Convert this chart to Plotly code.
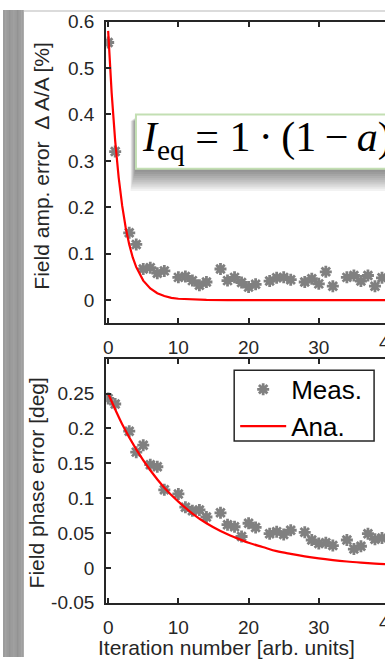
import plotly.graph_objects as go

# ---- data -------------------------------------------------------------
iterations = [0, 1, 3, 4, 5, 6, 7, 8, 10, 11, 12, 13, 14, 16, 17, 18, 19, 20,
              21, 23, 24, 25, 26, 28, 29, 30, 31, 32, 34, 35, 36, 37, 38, 39]

amp_meas = [0.555, 0.32, 0.145, 0.12, 0.067, 0.07, 0.058, 0.063, 0.049, 0.051,
            0.042, 0.032, 0.039, 0.067, 0.042, 0.049, 0.038, 0.028, 0.034, 0.041,
            0.048, 0.049, 0.044, 0.039, 0.046, 0.035, 0.061, 0.030, 0.049, 0.053,
            0.041, 0.053, 0.030, 0.048]

phase_meas = [0.243, 0.235, 0.196, 0.166, 0.176, 0.148, 0.145, 0.112, 0.106, 0.087,
              0.082, 0.083, 0.073, 0.079, 0.062, 0.059, 0.045, 0.064, 0.058, 0.049,
              0.052, 0.048, 0.054, 0.051, 0.040, 0.035, 0.036, 0.032, 0.040, 0.027,
              0.031, 0.049, 0.041, 0.043]

amp_ana_x = [0, 0.5, 1, 1.5, 2, 2.5, 3, 3.5, 4, 4.5, 5, 6, 7, 8, 9, 10, 12, 14,
             17, 20, 25, 30, 35, 40]
amp_ana_y = [0.58, 0.446, 0.343, 0.264, 0.203, 0.156, 0.120, 0.092, 0.071, 0.055,
             0.042, 0.025, 0.015, 0.009, 0.005, 0.003, 0.001, 0.0004, 0.0001, 0,
             0, 0, 0, 0]

phase_ana_x = [0, 2, 4, 6, 8, 10, 12, 14, 16, 18, 20, 22, 24, 26, 28, 30, 32, 34,
               36, 38, 40]
phase_ana_y = [0.250, 0.206, 0.170, 0.140, 0.115, 0.095, 0.078, 0.064, 0.053, 0.044,
               0.036, 0.030, 0.024, 0.020, 0.0165, 0.0136, 0.0112, 0.0092, 0.0076,
               0.0062, 0.0051]

x_ticks = [0, 10, 20, 30, 40]
x_ticklabels = ["0", "10", "20", "30", "40"]
amp_ticks = [0, 0.1, 0.2, 0.3, 0.4, 0.5, 0.6]
amp_ticklabels = ["0", "0.1", "0.2", "0.3", "0.4", "0.5", "0.6"]
phase_ticks = [-0.05, 0, 0.05, 0.1, 0.15, 0.2, 0.25]
phase_ticklabels = ["-0.05", "0", "0.05", "0.1", "0.15", "0.2", "0.25"]

# ---- style ------------------------------------------------------------
W, H = 385, 668
AX = "#262626"
FONT = "Liberation Sans, Arial, Helvetica, sans-serif"
SERIF = "Liberation Serif, Times New Roman, serif"
STAR = "#808080"
RED = "#ff0000"
X_RANGE = [-0.28, 39.43]
X_DOMAIN = [104 / W, 1.0]


def py(p):
    """pixel row -> paper y"""
    return 1 - p / H


star_marker = dict(symbol="asterisk-open", size=10, color=STAR,
                   line=dict(color=STAR, width=2.8))

fig = go.Figure()

fig.add_trace(go.Scatter(
    x=iterations, y=amp_meas, mode="markers", name="Meas.", showlegend=False,
    marker=star_marker, xaxis="x", yaxis="y"))
fig.add_trace(go.Scatter(
    x=amp_ana_x, y=amp_ana_y, mode="lines", name="Ana.", showlegend=False,
    line=dict(color=RED, width=2.2), xaxis="x", yaxis="y"))

fig.add_trace(go.Scatter(
    x=iterations, y=phase_meas, mode="markers", name="Meas.",
    marker=star_marker, xaxis="x2", yaxis="y2"))
fig.add_trace(go.Scatter(
    x=phase_ana_x, y=phase_ana_y, mode="lines", name="Ana.", line_shape="spline",
    line=dict(color=RED, width=2.2), xaxis="x2", yaxis="y2"))

common_x = dict(
    domain=X_DOMAIN, range=X_RANGE, tickvals=x_ticks, ticktext=x_ticklabels,
    ticks="inside", ticklen=5, tickwidth=1.5, tickcolor=AX, ticklabelstandoff=6,
    showline=True, linewidth=2, linecolor=AX, mirror="ticks",
    showgrid=False, zeroline=False,
    tickfont=dict(family=FONT, size=19, color=AX),
)
common_y = dict(
    ticks="inside", ticklen=5, tickwidth=1.5, tickcolor=AX, ticklabelstandoff=6,
    showline=True, linewidth=2, linecolor=AX,
    showgrid=False, zeroline=False,
    tickfont=dict(family=FONT, size=19, color=AX),
)
right_y = dict(
    ticks="inside", ticklen=4, tickwidth=1.5, tickcolor=AX, side="right",
    showline=False, showgrid=False, zeroline=False, showticklabels=False,
)

# legend box outline drawn as a shape; the legend itself sits on top of it
LG_X0, LG_X1, LG_Y0, LG_Y1 = 233, 374, 372, 445

fig.update_layout(
    width=W, height=H, margin=dict(l=0, r=0, t=0, b=0),
    paper_bgcolor="white", plot_bgcolor="white",
    xaxis=dict(anchor="y", **common_x),
    yaxis=dict(anchor="x", domain=[py(323.5), py(12)], range=[-0.05, 0.6],
               tickvals=amp_ticks, ticktext=amp_ticklabels, **common_y),
    xaxis2=dict(anchor="y2", **common_x),
    yaxis2=dict(anchor="x2", domain=[py(612), py(360)], range=[-0.05, 0.3],
                tickvals=phase_ticks, ticktext=phase_ticklabels, **common_y),
    yaxis3=dict(overlaying="y", anchor="x", range=[-0.05, 0.6],
                tickvals=amp_ticks, **right_y),
    yaxis4=dict(overlaying="y2", anchor="x2", range=[-0.05, 0.3],
                tickvals=phase_ticks, **right_y),
    showlegend=True,
    legend=dict(x=(LG_X0 + 1) / W, y=py(LG_Y0 - 4.5), xanchor="left", yanchor="top",
                bgcolor="rgba(0,0,0,0)", borderwidth=0,
                font=dict(family=FONT, size=26, color="black"),
                tracegroupgap=0, itemwidth=46),
)
fig.add_shape(type="rect", xref="paper", yref="paper",
              x0=LG_X0 / W, x1=LG_X1 / W, y0=py(LG_Y1), y1=py(LG_Y0),
              fillcolor="white", line=dict(color=AX, width=1.5), layer="above")

# the "40" tick label sits just past the right edge of the visible area
x40 = X_DOMAIN[0] + (40 - X_RANGE[0]) / (X_RANGE[1] - X_RANGE[0]) * (X_DOMAIN[1] - X_DOMAIN[0])
for yrow in (343, 632):
    fig.add_annotation(x=x40, y=py(yrow), xref="paper", yref="paper",
                       text="40", showarrow=False, xanchor="center", yanchor="middle",
                       font=dict(family=FONT, size=19, color=AX))

# axis titles
fig.add_annotation(x=225 / W, y=py(658), xref="paper", yref="paper",
                   xanchor="center", yanchor="middle",
                   text="Iteration number [arb. units]", showarrow=False,
                   font=dict(family=FONT, size=21, color=AX))
fig.add_annotation(x=39 / W, y=py(161), xref="paper", yref="paper", textangle=-90,
                   xanchor="center", yanchor="middle",
                   text="Field amp. error \u00a0\u0394 A/A [%]", showarrow=False,
                   font=dict(family=FONT, size=21, color=AX))
fig.add_annotation(x=34 / W, y=py(488), xref="paper", yref="paper", textangle=-90,
                   xanchor="center", yanchor="middle",
                   text="Field phase error [deg]", showarrow=False,
                   font=dict(family=FONT, size=21, color=AX))

# page frame: grey strip on the left, thin rule along the top
fig.add_shape(type="rect", xref="paper", yref="paper", x0=0, x1=21 / W, y0=0, y1=1,
              fillcolor="#9c9c9c", line=dict(width=0), layer="above")
for i, c in enumerate(["#a3a3a3", "#959595", "#a0a0a0", "#939393", "#a5a5a5"]):
    xs = (2 + i * 4) / W
    fig.add_shape(type="rect", xref="paper", yref="paper", x0=xs, x1=xs + 1.5 / W,
                  y0=0, y1=1, fillcolor=c, line=dict(width=0), layer="above")
fig.add_shape(type="line", xref="paper", yref="paper", x0=21 / W, x1=1,
              y0=py(1), y1=py(1), line=dict(color="#cfcfcf", width=1.5), layer="above")

# equation box with a soft drop shadow
BX0, BX1, BY0, BY1 = 134, 400, 108, 164
for k in range(10):
    fig.add_shape(type="rect", xref="paper", yref="paper",
                  x0=(BX0 - 1 - 0.5 * k) / W, x1=(BX1 + 5) / W,
                  y0=py(BY1 + 3 + 2.2 * k), y1=py(BY0 + 3 + 0.4 * k),
                  fillcolor="black", opacity=0.05, line=dict(width=0), layer="above")
fig.add_shape(type="rect", xref="paper", yref="paper",
              x0=BX0 / W, x1=BX1 / W, y0=py(BY1), y1=py(BY0),
              fillcolor="white", line=dict(color="#c3dfb3", width=2), layer="above")
fig.add_annotation(x=138 / W, y=py(134), xref="paper", yref="paper",
                   xanchor="left", yanchor="middle", showarrow=False,
                   text="<i>I</i><sub>eq</sub> = 1\u2009\u00b7\u2009(1\u2009\u2212\u2009<i>a</i>)",
                   font=dict(family=SERIF, size=42, color="black"))

fig.write_html("out.html")
